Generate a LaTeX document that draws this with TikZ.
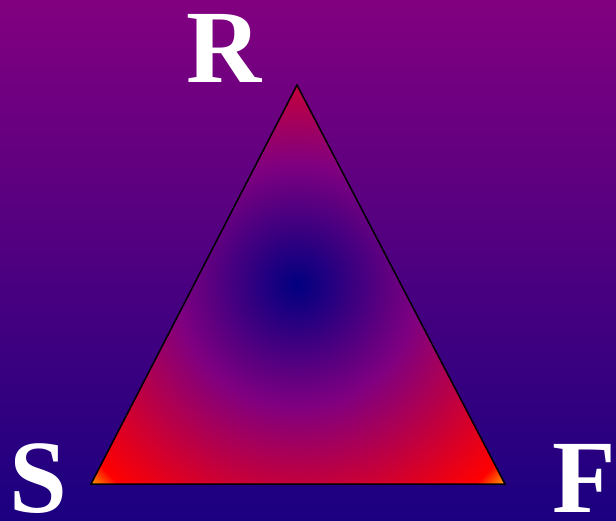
\documentclass[tikz,border=0pt]{standalone}
\usepackage{fontspec}
\setmainfont{Liberation Serif}
\definecolor{bgtop}{RGB}{130,0,128}
\definecolor{bgbot}{RGB}{26,0,128}
\definecolor{cnavy}{RGB}{0,0,128}
\definecolor{cpurple}{RGB}{128,0,128}
\definecolor{cred}{RGB}{255,0,0}
\definecolor{corange}{RGB}{255,165,0}
\pgfdeclareradialshading{trishade}{\pgfpoint{0bp}{0bp}}{%
  color(0bp)=(cnavy); color(10.5bp)=(cpurple); color(23bp)=(cred); color(24.8bp)=(corange); color(50bp)=(corange)}
\tikzset{
  letter/.style={text=white, font=\fontsize{104}{104}\selectfont\bfseries, inner sep=0pt, anchor=base},
  edge/.style={draw=black, line width=1.5pt, line join=miter}
}
\begin{document}
\begin{tikzpicture}[x=1pt,y=-1pt]
\useasboundingbox (0,0) rectangle (616,520);
\shade[top color=bgtop, bottom color=bgbot] (0,0) rectangle (616,520);
\coordinate (top) at (297,85);
\coordinate (left) at (91,484);
\coordinate (right) at (505,484);
\coordinate (ctr) at (297,285);
\begin{scope}
  \clip (top) -- (left) -- (right) -- cycle;
  \shade[shading=trishade] (ctr) circle (290);
\end{scope}
\draw[edge] (top) -- (left) -- (right) -- cycle;
\node[letter] (R) at (224,82) {R};
\node[letter] (S) at (38,512) {S};
\node[letter] (F) at (584,512) {F};
\end{tikzpicture}
\end{document}
